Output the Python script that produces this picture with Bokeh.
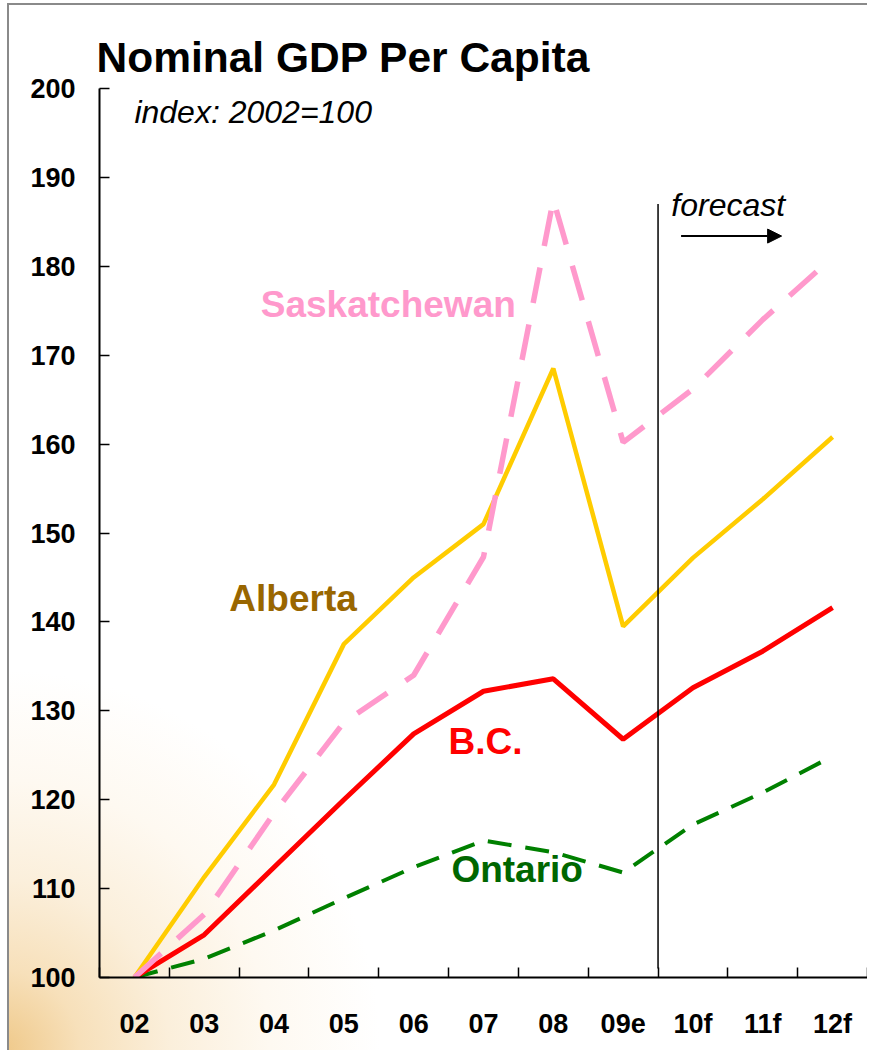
from bokeh.plotting import figure
from bokeh.models import FixedTicker, Range1d, Arrow, NormalHead, Label
from bokeh.embed import file_html
from bokeh.resources import INLINE

# ---- data ----
x_labels = ["02", "03", "04", "05", "06", "07", "08", "09e", "10f", "11f", "12f"]
alberta = [100, 111.3, 121.7, 137.5, 145.0, 151.0, 168.5, 139.5, 147.2, 153.8, 160.8]
saskatchewan = [100, 107.1, 118.5, 128.7, 134.0, 147.3, 187.5, 160.2, 166.2, 174.0, 181.0]
bc = [100, 104.8, 112.4, 120.0, 127.4, 132.2, 133.6, 126.8, 132.6, 136.7, 141.6]
ontario = [100, 102.1, 105.3, 108.9, 112.4, 115.4, 114.1, 111.8, 117.2, 120.8, 124.9]
y_ticks = [100, 110, 120, 130, 140, 150, 160, 170, 180, 190, 200]
forecast_index = 7.5   # boundary between 09e and 10f

xs = list(range(len(x_labels)))
FONT = "Liberation Sans"

p = figure(width=867, height=1050, output_backend="svg", toolbar_location=None,
           x_range=Range1d(-0.5, len(x_labels) - 0.5), y_range=Range1d(100, 200),
           min_border_left=99, min_border_right=0, min_border_top=88, min_border_bottom=73)

p.styles = {"background": "radial-gradient(circle at 0px 1050px, #EFC888 0px, #F7E0BA 80px, #FBEFDB 170px, #FEF9F1 270px, #FFFFFF 380px)",
            "box-shadow": "inset 7px 3px 0 #ffffff, inset 9px 5px 0 #8a8a8a"}
p.border_fill_alpha = 0
p.background_fill_alpha = 0
p.outline_line_color = None
p.xgrid.grid_line_color = None
p.ygrid.grid_line_color = None

# title
p.title.text = "Nominal GDP Per Capita"
p.title.text_font = FONT
p.title.text_font_size = "42.5px"
p.title.text_font_style = "bold"
p.title.text_color = "black"
p.title.offset = -3
p.title.standoff = 16

# x axis: labels at centers, ticks at boundaries (minor)
xa = p.xaxis[0]
xa.ticker = FixedTicker(ticks=xs, minor_ticks=[i - 0.5 for i in range(len(x_labels) + 1)])
xa.major_label_overrides = {i: lab for i, lab in enumerate(x_labels)}
xa.major_tick_line_color = None
xa.minor_tick_in = 10
xa.minor_tick_out = 0
xa.minor_tick_line_color = "black"
xa.minor_tick_line_width = 1.5
xa.axis_line_width = 2
xa.axis_line_color = "black"
xa.major_label_text_font = FONT
xa.major_label_text_font_size = "27px"
xa.major_label_text_font_style = "bold"
xa.major_label_text_color = "black"
xa.major_label_standoff = 25

ya = p.yaxis[0]
ya.ticker = FixedTicker(ticks=y_ticks)
ya.major_tick_in = 10
ya.major_tick_out = 0
ya.minor_tick_line_color = None
ya.major_tick_line_width = 1.5
ya.axis_line_width = 2
ya.axis_line_color = "black"
ya.major_label_text_font = FONT
ya.major_label_text_font_size = "27px"
ya.major_label_text_font_style = "bold"
ya.major_label_text_color = "black"
ya.major_label_standoff = 24

# series
p.line(xs, ontario, line_color="#008000", line_width=4, line_dash="24 14")
p.line(xs, bc, line_color="#FF0000", line_width=5)
p.line(xs, alberta, line_color="#FFCC00", line_width=4.5)
p.line(xs, saskatchewan, line_color="#FF99CC", line_width=5.5, line_dash="36 22")

# forecast divider
p.segment(x0=[forecast_index], y0=[101], x1=[forecast_index], y1=[187.0],
          line_color="black", line_width=1.5)
p.add_layout(Arrow(end=NormalHead(size=14, fill_color="black", line_color="black"),
                   x_start=7.83, y_start=183.4, x_end=9.27, y_end=183.4,
                   line_color="black", line_width=2))

def lab(x, y, text, color, size, style="bold"):
    p.add_layout(Label(x=x, y=y, text=text, text_color=color, text_font=FONT,
                       text_font_size=size, text_font_style=style,
                       text_baseline="alphabetic", text_align="left"))

lab(0.0, 197.4, "index: 2002=100", "black", "32px", "italic")
lab(7.69, 186.9, "forecast", "black", "32px", "italic")
lab(1.81, 175.7, "Saskatchewan", "#FF99CC", "37px")
lab(1.36, 142.6, "Alberta", "#996600", "37px")
lab(4.50, 126.5, "B.C.", "#FF0000", "37px")
lab(4.54, 112.1, "Ontario", "#006600", "37px")

open("out.html", "w").write(file_html(p, INLINE))
